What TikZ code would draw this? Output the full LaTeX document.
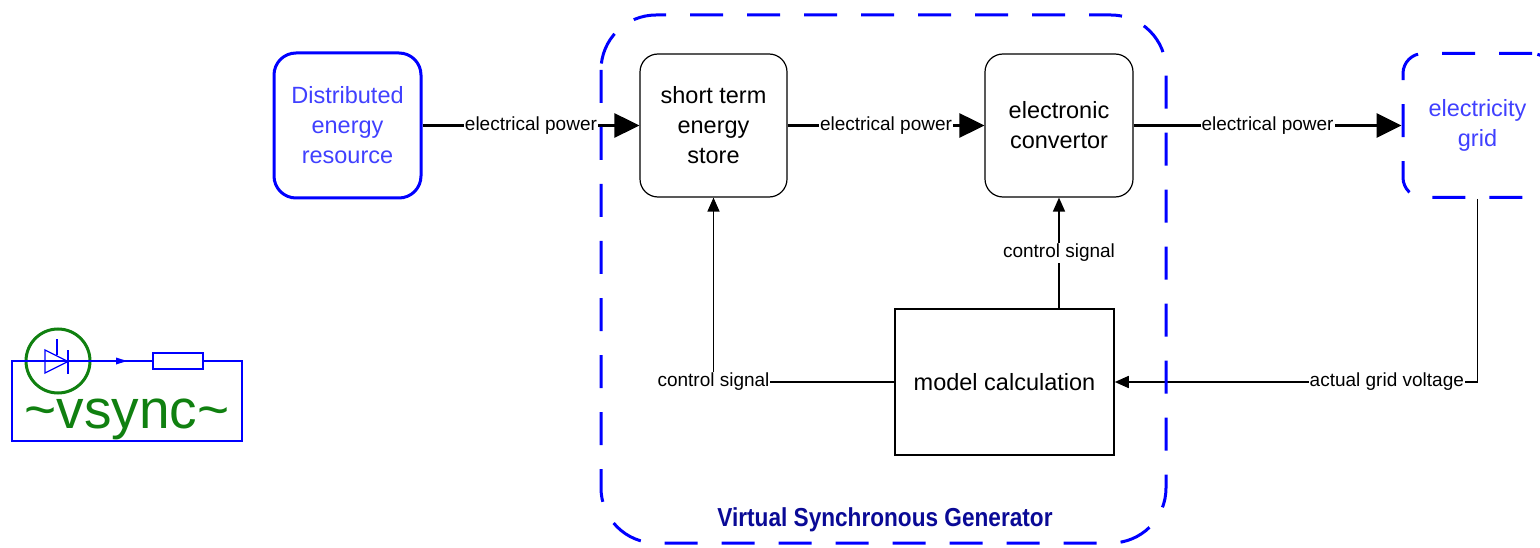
\documentclass[tikz,border=0pt]{standalone}
\usepackage{fontspec}
\usepackage{graphicx}
\setmainfont{Liberation Sans}
\usetikzlibrary{arrows.meta}
\definecolor{pureblue}{RGB}{0,0,255}
\definecolor{txtblue}{RGB}{64,64,255}
\definecolor{navyb}{RGB}{10,10,150}
\definecolor{icongreen}{RGB}{16,128,16}
\begin{document}
\begin{tikzpicture}[x=1pt,y=-1pt,
  boxtext/.style={font=\fontsize{23.5}{30}\selectfont, align=center},
  derbox/.style={draw=pureblue, line width=3pt, rounded corners=22pt, minimum width=147pt, minimum height=145pt, text=txtblue, boxtext},
  gridbox/.style={draw=pureblue, line width=3pt, dash pattern=on 33pt off 24pt, rounded corners=20pt, minimum width=149pt, minimum height=144pt, text=txtblue, boxtext},
  blockbox/.style={draw=black, line width=1.2pt, rounded corners=18pt, minimum width=147pt, minimum height=143pt, boxtext},
  calcbox/.style={draw=black, line width=1.5pt, minimum width=219pt, minimum height=146pt, boxtext},
  lbl/.style={font=\fontsize{19}{22}\selectfont, fill=white, inner sep=1pt},
  powerarrow/.style={line width=3pt, -{Triangle[length=25pt,width=24pt]}},
  signalarrow/.style={line width=1.5pt, -{Triangle[length=14pt,width=12pt]}},
  vsgborder/.style={draw=pureblue, line width=3pt, dash pattern=on 33pt off 24pt, rounded corners=55pt},
  iconline/.style={pureblue, line width=1.3pt}
]
\useasboundingbox (0,0) rectangle (1540,548);
\clip (0,0) rectangle (1540,548);

% main blocks
\node[derbox] (der) at (347.5,125.5) {Distributed\\energy\\resource};
\node[blockbox] (stes) at (713.5,125.5) {short term\\energy\\store};
\node[blockbox, minimum width=148pt] (ec) at (1059,125.5) {electronic\\convertor};
\node[gridbox] (grid) at (1477.5,125.5) {electricity\\grid};
\node[calcbox] (mc) at (1004.5,382) {model calculation};

% power flow
\draw[powerarrow] (der) -- node[lbl] {electrical power} (stes);
\draw[powerarrow] (stes) -- node[lbl] {electrical power} (ec);
\draw[powerarrow] (ec) -- node[lbl] {electrical power} (grid);

% signals
\draw[signalarrow] (mc.west) -| node[lbl, pos=0.5] {control signal} (stes.south);
\coordinate (mctop) at (mc.north -| ec.south);
\draw[signalarrow] (mctop) -- node[lbl] {control signal} (ec.south);
\draw[signalarrow] (grid.south) |- node[lbl, pos=0.625] {actual grid voltage} (mc.east);

% virtual synchronous generator container
\draw[vsgborder] (601,15) rectangle (1166,543);
\node[font=\bfseries\fontsize{26}{28}\selectfont, text=navyb] (vsglabel) at (885,520) {\scalebox{0.87}[1]{Virtual Synchronous Generator}};

% vsync icon
\draw[icongreen, line width=3pt] (58,361) circle[radius=32pt];
\draw[iconline] (12,361) rectangle (242,441);
\draw[iconline, fill=white] (153,353) rectangle (203,369);
\fill[pureblue] (116,357.5) -- (127,361) -- (116,364.5) -- cycle;
\draw[iconline] (45,350) -- (45,373) -- (68,361.5) -- cycle;
\draw[iconline] (68,350) -- (68,374);
\draw[iconline] (57,339) -- (57,355);
\node[text=icongreen, font=\fontsize{55}{60}\selectfont, anchor=base] (vsync) at (127,428) {\textasciitilde vsync\textasciitilde};
\end{tikzpicture}
\end{document}
